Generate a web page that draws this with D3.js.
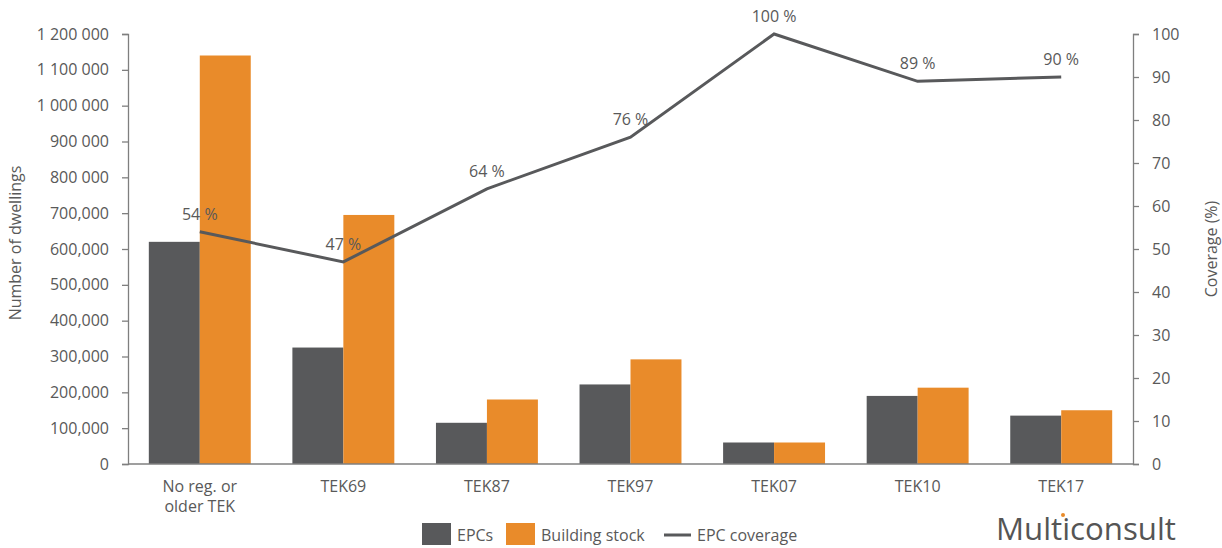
<!DOCTYPE html>
<html>
<head>
<meta charset="utf-8">
<script src="https://cdn.jsdelivr.net/npm/d3@7"></script>
<style>
  body { margin: 0; background: #fff; }
  text { font-family: "Open Sans", sans-serif; fill: #595959; }
</style>
</head>
<body>
<div id="chart"></div>
<script>
// data
var categories = ["No reg. or older TEK", "TEK69", "TEK87", "TEK97", "TEK07", "TEK10", "TEK17"];
var epcs = [620000, 325000, 115000, 222000, 60000, 190000, 135000];
var buildingStock = [1140000, 695000, 180000, 292000, 60000, 213000, 150000];
var coverage = [54, 47, 64, 76, 100, 89, 90];
var leftTicks = [0, 100000, 200000, 300000, 400000, 500000, 600000, 700000, 800000, 900000, 1000000, 1100000, 1200000];
var leftTickLabels = ["0", "100,000", "200,000", "300,000", "400,000", "500,000", "600,000", "700,000",
                      "800 000", "900 000", "1 000 000", "1 100 000", "1 200 000"];
var rightTicks = [0, 10, 20, 30, 40, 50, 60, 70, 80, 90, 100];

var darkCol = "#58595b";
var orangeCol = "#e98b2a";
var axisCol = "#7f7f7f";

var width = 1222, height = 548;
var margin = {top: 34, right: 89, bottom: 84, left: 128};
var innerW = width - margin.left - margin.right;
var innerH = height - margin.top - margin.bottom;

var svg = d3.select("#chart").append("svg")
    .attr("width", width)
    .attr("height", height);

var g = svg.append("g")
    .attr("transform", "translate(" + margin.left + "," + margin.top + ")");

var x0 = d3.scaleBand()
    .domain(categories)
    .range([0, innerW])
    .paddingInner(0.29)
    .paddingOuter(0.145);

var x1 = d3.scaleBand()
    .domain(["epc", "stock"])
    .range([0, x0.bandwidth()]);

var yL = d3.scaleLinear().domain([0, 1200000]).range([innerH, 0]);
var yR = d3.scaleLinear().domain([0, 100]).range([innerH, 0]);

// bars
var groups = g.selectAll(".grp")
    .data(categories)
    .enter().append("g")
    .attr("transform", function(d) { return "translate(" + x0(d) + ",0)"; });

groups.append("rect")
    .attr("x", x1("epc"))
    .attr("width", x1.bandwidth())
    .attr("y", function(d, i) { return yL(epcs[i]); })
    .attr("height", function(d, i) { return innerH - yL(epcs[i]); })
    .attr("fill", darkCol);

groups.append("rect")
    .attr("x", x1("stock"))
    .attr("width", x1.bandwidth())
    .attr("y", function(d, i) { return yL(buildingStock[i]); })
    .attr("height", function(d, i) { return innerH - yL(buildingStock[i]); })
    .attr("fill", orangeCol);

// left axis
var leftAxis = g.append("g")
    .call(d3.axisLeft(yL).tickValues(leftTicks)
      .tickFormat(function(d, i) { return leftTickLabels[i]; })
      .tickSize(6).tickPadding(13));
// right axis
var rightAxis = g.append("g")
    .attr("transform", "translate(" + innerW + ",0)")
    .call(d3.axisRight(yR).tickValues(rightTicks).tickSize(6).tickPadding(13));

[leftAxis, rightAxis].forEach(function(a) {
  a.select(".domain").attr("stroke", axisCol).attr("stroke-width", 1.3);
  a.selectAll(".tick line").attr("stroke", axisCol).attr("stroke-width", 1.3);
  a.selectAll("text").attr("font-size", 16).attr("font-family", "Open Sans").attr("fill", "#595959");
});

// x baseline
g.append("line")
    .attr("x1", 0).attr("x2", innerW)
    .attr("y1", innerH).attr("y2", innerH)
    .attr("stroke", axisCol).attr("stroke-width", 1.3);

// category labels
var catLabels = g.selectAll(".cat")
    .data(categories)
    .enter().append("text")
    .attr("text-anchor", "middle")
    .attr("font-size", 16)
    .attr("x", function(d) { return x0(d) + x0.bandwidth() / 2; })
    .attr("y", innerH + 28);
catLabels.each(function(d) {
  var t = d3.select(this);
  if (d === "No reg. or older TEK") {
    t.append("tspan").attr("x", t.attr("x")).text("No reg. or");
    t.append("tspan").attr("x", t.attr("x")).attr("dy", 20).text("older TEK");
  } else {
    t.text(d);
  }
});

// coverage line
var line = d3.line()
    .x(function(d, i) { return x0(categories[i]) + x0.bandwidth() / 2; })
    .y(function(d) { return yR(d); });

g.append("path")
    .datum(coverage)
    .attr("fill", "none")
    .attr("stroke", darkCol)
    .attr("stroke-width", 3)
    .attr("d", line);

g.selectAll(".cov")
    .data(coverage)
    .enter().append("text")
    .attr("text-anchor", "middle")
    .attr("font-size", 16)
    .attr("x", function(d, i) { return x0(categories[i]) + x0.bandwidth() / 2; })
    .attr("y", function(d) { return yR(d) - 12; })
    .text(function(d) { return d + " %"; });

// axis titles
svg.append("text")
    .attr("transform", "translate(21," + (margin.top + innerH / 2 - 6) + ") rotate(-90)")
    .attr("text-anchor", "middle")
    .attr("font-size", 16)
    .text("Number of dwellings");

svg.append("text")
    .attr("transform", "translate(1217," + (margin.top + innerH / 2) + ") rotate(-90)")
    .attr("text-anchor", "middle")
    .attr("font-size", 16)
    .text("Coverage (%)");

// legend
var legend = svg.append("g").attr("transform", "translate(422,523)");
legend.append("rect").attr("x", 0).attr("y", 0).attr("width", 29).attr("height", 22).attr("fill", darkCol);
legend.append("text").attr("x", 35).attr("y", 18).attr("font-size", 16).text("EPCs");
legend.append("rect").attr("x", 84).attr("y", 0).attr("width", 29).attr("height", 22).attr("fill", orangeCol);
legend.append("text").attr("x", 119).attr("y", 18).attr("font-size", 16).text("Building stock");
legend.append("line").attr("x1", 242).attr("x2", 269).attr("y1", 12).attr("y2", 12)
    .attr("stroke", darkCol).attr("stroke-width", 3);
legend.append("text").attr("x", 275).attr("y", 18).attr("font-size", 16).text("EPC coverage");

// logo
svg.append("text")
    .attr("x", 996).attr("y", 540)
    .attr("font-family", "DejaVu Sans Condensed")
    .attr("font-size", 31)
    .attr("textLength", 180)
    .attr("lengthAdjust", "spacingAndGlyphs")
    .style("fill", "#555555")
    .text("Multiconsult");
svg.append("circle").attr("cx", 1063).attr("cy", 515).attr("r", 2).attr("fill", orangeCol);
</script>
</body>
</html>
